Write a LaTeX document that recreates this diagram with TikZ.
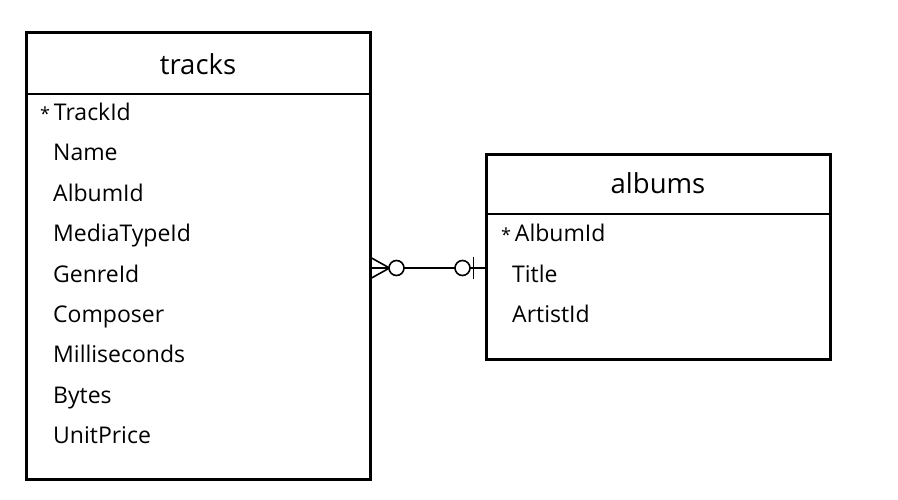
\documentclass[tikz,border=0pt]{standalone}
\usepackage{fontspec}
\setmainfont{Open Sans}
\usetikzlibrary{calc}
\begin{document}
\begin{tikzpicture}[x=1pt,y=-1pt,
  entity/.style={draw=black,line width=3pt,minimum width=344pt,inner sep=0pt},
  divider/.style={line width=2.5pt},
  title/.style={font=\fontsize{27.5}{28}\selectfont,anchor=base,inner sep=0pt},
  field/.style={font=\fontsize{23}{24}\selectfont,anchor=base west,inner sep=0pt},
  rel/.style={line width=1.6pt}]
\useasboundingbox (0,0) rectangle (898,500);
\fill[white] (0,0) rectangle (898,500);
% tracks
\node[entity,minimum height=446pt] (tracks) at (198,256) {};
\draw[divider] (26,94) coordinate (tdl) -- (370,94) coordinate (tdr);
\node[title] (tt) at (198,75) {tracks};
\node[field] (f1) at (40,121) {{\fontsize{18}{18}\selectfont *}\,TrackId};
\node[field] (f2) at (53,161) {Name};
\node[field] (f3) at (53,201.5) {AlbumId};
\node[field] (f4) at (53,242) {MediaTypeId};
\node[field] (f5) at (53,282) {GenreId};
\node[field] (f6) at (53,322.5) {Composer};
\node[field] (f7) at (53,362.5) {Milliseconds};
\node[field] (f8) at (53,403) {Bytes};
\node[field] (f9) at (53,443) {UnitPrice};
% albums
\node[entity,minimum height=204pt] (albums) at (658,257) {};
\draw[divider] (486,214) coordinate (adl) -- (830,214) coordinate (adr);
\node[title] (at) at (658,193.5) {albums};
\node[field] (a1) at (501,242) {{\fontsize{18}{18}\selectfont *}\,AlbumId};
\node[field] (a2) at (512,282) {Title};
\node[field] (a3) at (512,322.5) {ArtistId};
% relationship
\path (tracks.east) ++(0,12) coordinate (ta);
\path (albums.west) ++(0,11) coordinate (ab);
\draw[rel] (ta) -- (ab);
\coordinate (cf) at ($(ta)+(18,0)$);
\draw[rel] ($(ta)+(0,-10)$) -- (cf) -- ($(ta)+(0,10)$);
\draw[rel,fill=white] ($(ta)+(25,0)$) circle (7.5);
\draw[rel,fill=white] ($(ab)+(-22,0)$) circle (7.5);
\draw[rel] ($(ab)+(-11,-11)$) -- ($(ab)+(-11,11)$);
\end{tikzpicture}
\end{document}
